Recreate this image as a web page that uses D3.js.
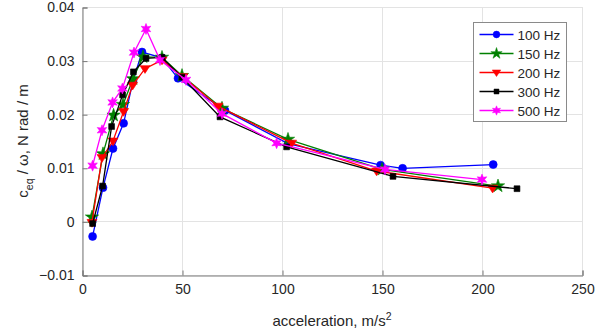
<!DOCTYPE html>
<html>
<head>
<meta charset="utf-8">
<script src="https://cdn.jsdelivr.net/npm/d3@7"></script>
<style>
  html, body { margin: 0; padding: 0; background: #fff; }
  svg { display: block; font-family: "Liberation Sans", Arial, sans-serif; }
</style>
</head>
<body>
<svg id="chart" width="611" height="334"></svg>
<script>
// Equivalent damping over excitation frequency vs. acceleration amplitude
const seriesNames = ["100 Hz", "150 Hz", "200 Hz", "300 Hz", "500 Hz"];

const acc100 = [5.3, 10.5, 15.5, 20.8, 25.5, 30, 40, 48, 71.5, 103, 149.3, 160.3, 205.6];
const val100 = [-0.0028, 0.0063, 0.0136, 0.0183, 0.0262, 0.0316, 0.0305, 0.0267, 0.0207, 0.0145, 0.0105, 0.0099, 0.0106];

const acc150 = [5, 10.5, 15.8, 20.5, 25.5, 30.5, 40, 50, 70, 103, 150, 208];
const val150 = [0.0008, 0.0126, 0.0198, 0.0218, 0.0266, 0.0307, 0.0306, 0.0272, 0.0211, 0.0153, 0.0097, 0.0066];

const acc200 = [5, 10, 15.5, 20.8, 25.3, 31.5, 40, 50.5, 68, 104.8, 147.3, 205.3];
const val200 = [-0.0002, 0.0119, 0.0150, 0.0205, 0.0254, 0.0285, 0.0301, 0.0270, 0.0215, 0.0146, 0.0094, 0.0062];

const acc300 = [5.3, 10.3, 14.8, 20.3, 25.7, 32, 40, 50, 69, 102.3, 155.5, 217.5];
const val300 = [-0.0004, 0.0066, 0.0177, 0.0236, 0.0279, 0.0304, 0.0306, 0.0269, 0.0195, 0.0139, 0.0084, 0.0061];

const acc500 = [5.3, 10, 15.3, 20.2, 26, 32, 39, 52, 70, 97.3, 151.5, 200];
const val500 = [0.0104, 0.0170, 0.0222, 0.0248, 0.0315, 0.0359, 0.0301, 0.0264, 0.0201, 0.0146, 0.0097, 0.0078];

const xTicks = [0, 50, 100, 150, 200, 250];
const yTicks = [-0.01, 0, 0.01, 0.02, 0.03, 0.04];

const colors = ["#0000ff", "#008000", "#ff0000", "#000000", "#ff00ff"];
const markers = ["circle", "star5", "triDown", "square", "star6"];

const series = [
  { name: seriesNames[0], x: acc100, y: val100 },
  { name: seriesNames[1], x: acc150, y: val150 },
  { name: seriesNames[2], x: acc200, y: val200 },
  { name: seriesNames[3], x: acc300, y: val300 },
  { name: seriesNames[4], x: acc500, y: val500 }
].map((s, i) => ({ ...s, color: colors[i], marker: markers[i],
  pts: s.x.map((v, j) => [v, s.y[j]]) }));

const svg = d3.select("#chart");
const mLeft = 82, mRight = 582, mTop = 7, mBottom = 275;

const x = d3.scaleLinear().domain([0, 250]).range([mLeft, mRight]);
const y = d3.scaleLinear().domain([-0.01, 0.04]).range([mBottom, mTop]);

// grid
const grid = svg.append("g").attr("stroke", "#e3e3e3").attr("stroke-width", 1);
xTicks.forEach(t => grid.append("line")
  .attr("x1", x(t) + 0.5).attr("x2", x(t) + 0.5).attr("y1", mTop).attr("y2", mBottom));
yTicks.forEach(t => grid.append("line")
  .attr("x1", mLeft).attr("x2", mRight).attr("y1", Math.round(y(t)) + 0.5).attr("y2", Math.round(y(t)) + 0.5));

// axes
const fmtY = d => d === 0 ? "0" : d3.format(".2f")(d);
const xAxis = d3.axisBottom(x).tickValues(xTicks).tickSize(-5).tickPadding(9).tickFormat(d3.format("d"));
const yAxis = d3.axisLeft(y).tickValues(yTicks).tickSize(-5).tickPadding(8).tickFormat(fmtY);

const gx = svg.append("g").attr("transform", `translate(0.5,${mBottom + 0.5})`).call(xAxis);
const gy = svg.append("g").attr("transform", `translate(${mLeft + 0.5},0.5)`).call(yAxis);
[gx, gy].forEach(g => {
  g.select(".domain").attr("stroke", "#7a7a7a");
  g.selectAll(".tick line").attr("stroke", "#7a7a7a");
  g.selectAll(".tick text").attr("fill", "#262626").style("font-size", "14px")
    .style("font-family", "'Liberation Sans', Arial, sans-serif");
});

// marker shapes
function markerPath(type, size) {
  const k = size || 1;
  if (type === "triDown") {
    const r = 5 * k;
    return `M${-r},${-r * 0.6}L${r},${-r * 0.6}L0,${r * 0.95}Z`;
  }
  if (type === "star6") {
    const ro = 5.5 * k, ri = 2.6 * k;
    let p = "";
    for (let i = 0; i < 12; i++) {
      const a = Math.PI / 6 * i - Math.PI / 2;
      const r = i % 2 === 0 ? ro : ri;
      p += (i === 0 ? "M" : "L") + (r * Math.cos(a)).toFixed(2) + "," + (r * Math.sin(a)).toFixed(2);
    }
    return p + "Z";
  }
  const base = { circle: d3.symbolCircle, star5: d3.symbolStar, square: d3.symbolSquare }[type];
  const area = { circle: 50, star5: 55, square: 34 }[type];
  return d3.symbol(base, area * k * k)();
}

const line = d3.line().x(d => x(d[0])).y(d => y(d[1]));
const plot = svg.append("g");
series.forEach(s => {
  const g = plot.append("g");
  g.append("path").attr("d", line(s.pts)).attr("fill", "none")
    .attr("stroke", s.color).attr("stroke-width", 1.3);
  g.selectAll("path.mk").data(s.pts).join("path").attr("class", "mk")
    .attr("d", markerPath(s.marker))
    .attr("transform", d => `translate(${x(d[0])},${y(d[1])})`)
    .attr("fill", s.color).attr("stroke", s.color).attr("stroke-width", 0.6);
});

// legend
const lg = svg.append("g").attr("transform", "translate(473.5,22.5)");
lg.append("rect").attr("width", 93).attr("height", 99)
  .attr("fill", "#fff").attr("stroke", "#8a8a8a").attr("stroke-width", 1);
series.forEach((s, i) => {
  const yy = 12 + i * 19;
  lg.append("line").attr("x1", 6).attr("x2", 40).attr("y1", yy).attr("y2", yy)
    .attr("stroke", s.color).attr("stroke-width", 1.3);
  lg.append("path").attr("d", markerPath(s.marker, 0.85))
    .attr("transform", `translate(23,${yy})`).attr("fill", s.color).attr("stroke", s.color).attr("stroke-width", 0.5);
  lg.append("text").attr("x", 44).attr("y", yy + 5).text(s.name)
    .attr("fill", "#262626").style("font-size", "13.5px");
});

// axis titles
const xt = svg.append("text").attr("x", (mLeft + mRight) / 2).attr("y", 326)
  .attr("text-anchor", "middle").attr("fill", "#262626").style("font-size", "15px");
xt.append("tspan").text("acceleration, m/s");
xt.append("tspan").text("2").attr("dy", -6).style("font-size", "10.5px");

const yt = svg.append("text").attr("transform", `translate(28,${(mTop + mBottom) / 2}) rotate(-90)`)
  .attr("text-anchor", "middle").attr("fill", "#262626").style("font-size", "15px");
yt.append("tspan").text("c");
yt.append("tspan").text("eq").attr("dy", 5).style("font-size", "10.5px");
yt.append("tspan").text(" / ω, N rad / m").attr("dy", -5);
</script>
</body>
</html>
